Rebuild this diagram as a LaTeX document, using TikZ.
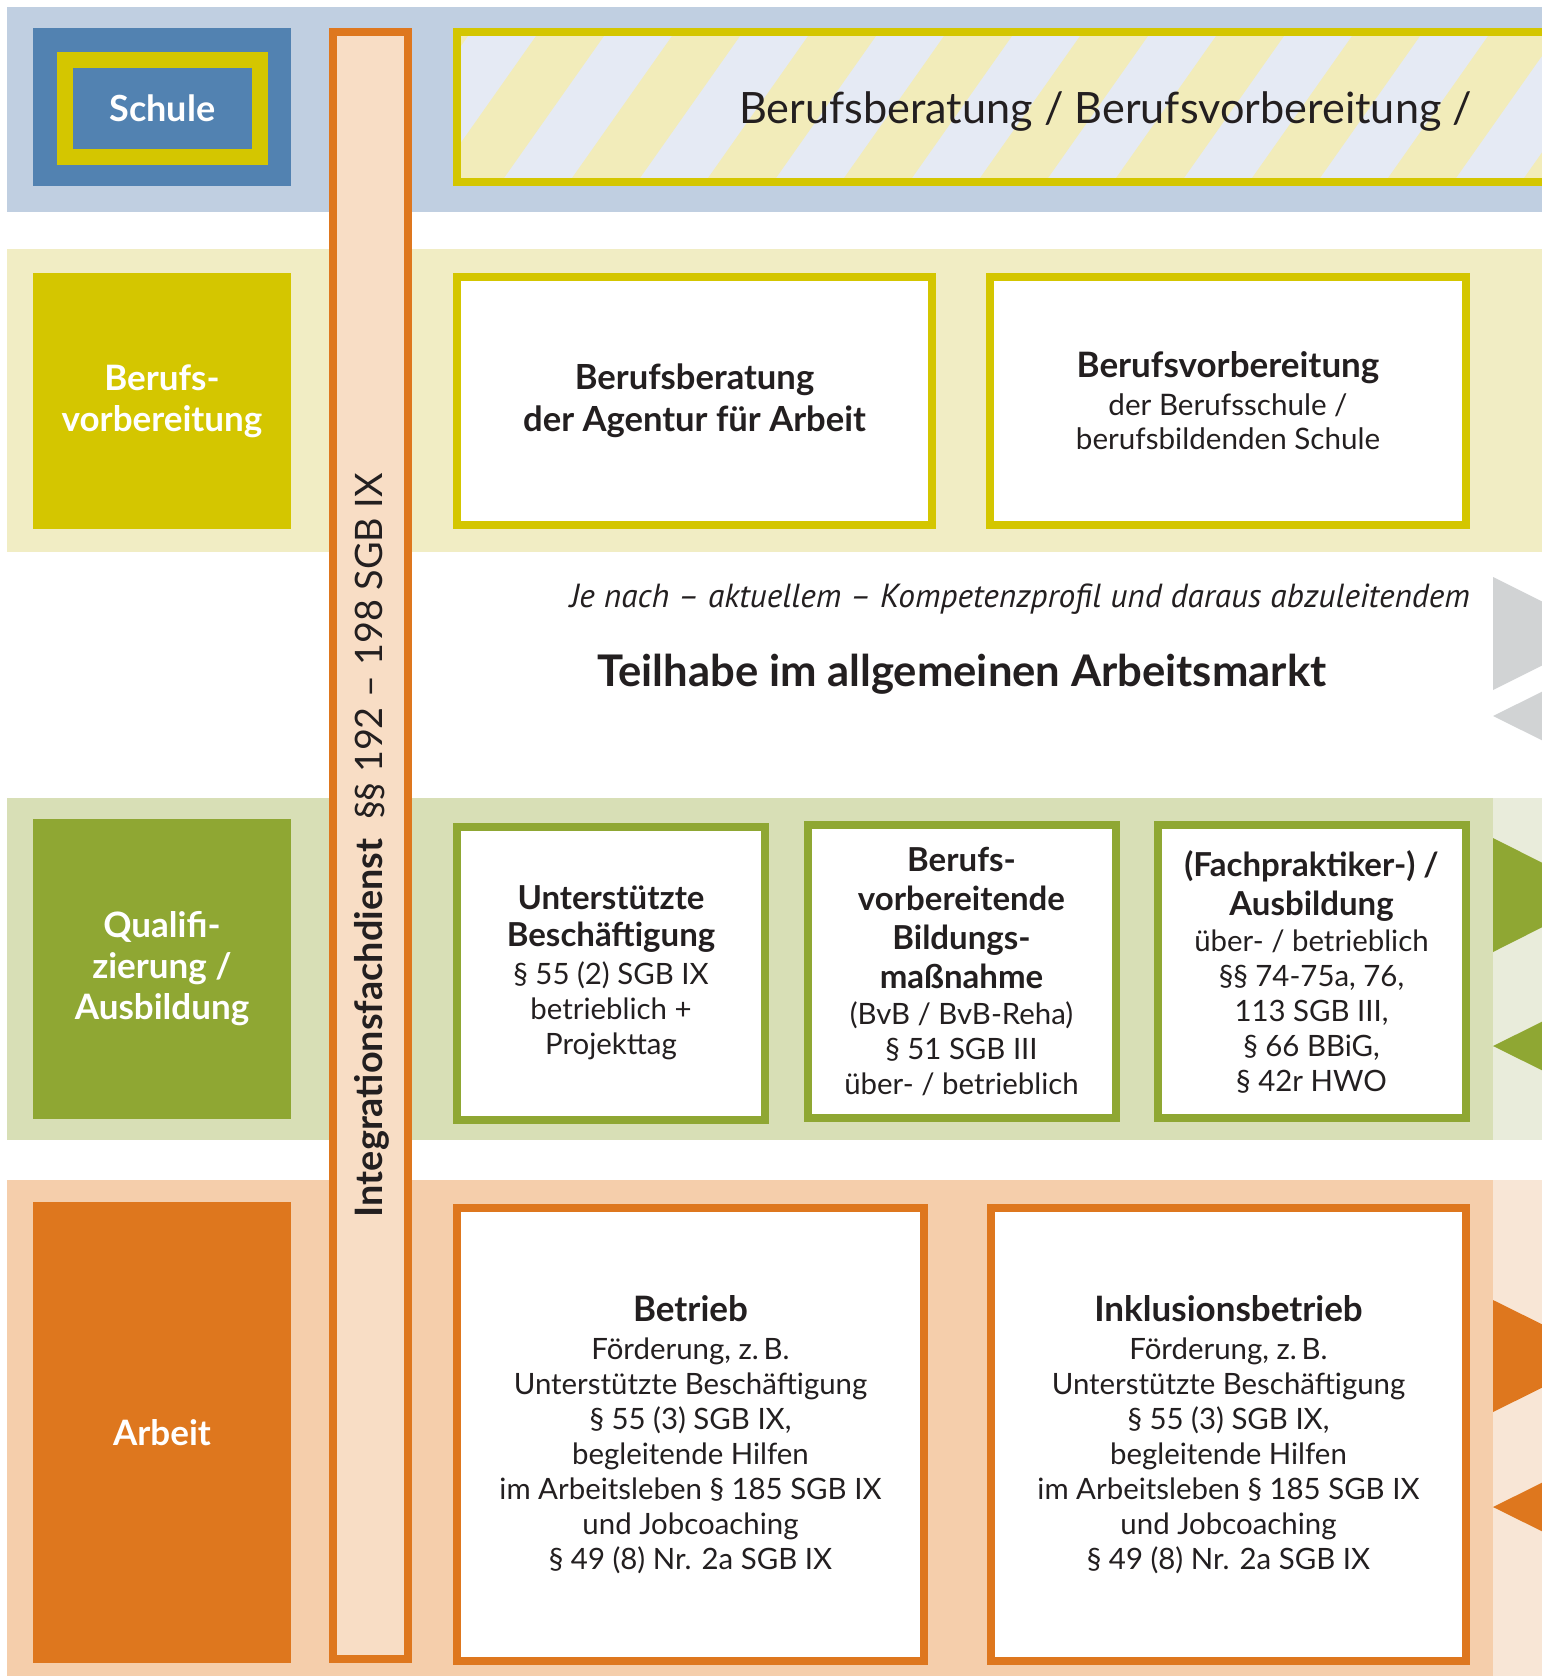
\documentclass[tikz,border=0pt]{standalone}
\usepackage{fontspec}
\setmainfont{Lato}
\newfontfamily\slantfont{PT Sans}
\usetikzlibrary{positioning}

\definecolor{txt}{HTML}{231F20}
\definecolor{schulblau}{HTML}{5282B1}
\definecolor{blaubg}{HTML}{C0CFE1}
\definecolor{stripblau}{HTML}{E5EAF4}
\definecolor{gelb}{HTML}{D4C600}
\definecolor{gelbbg}{HTML}{F1EDC4}
\definecolor{stripgelb}{HTML}{F2ECBA}
\definecolor{gruen}{HTML}{8FA733}
\definecolor{gruenbg}{HTML}{D8DFB6}
\definecolor{gruenhell}{HTML}{E9ECDB}
\definecolor{fdorange}{HTML}{DE771E}
\definecolor{orangebg}{HTML}{F5CEAB}
\definecolor{orangehell}{HTML}{F8E6D6}
\definecolor{ifdfill}{HTML}{F8DDC5}
\definecolor{grau}{HTML}{D1D3D4}

\newcommand{\boxtitle}{\bfseries\fontsize{17.5}{20}\selectfont}
\newcommand{\smalltitle}{\bfseries\fontsize{16.5}{19}\selectfont}

\begin{document}
\begin{tikzpicture}[x=0.5pt,y=-0.5pt,
	head/.style={fill=#1,text=white,font=\bfseries\fontsize{17.5}{20.5}\selectfont,align=center,minimum width=129pt,inner sep=0pt},
	card/.style={draw=#1,line width=4pt,fill=white,text=txt,align=center,inner sep=0pt,font=\fontsize{14.7}{17.5}\selectfont},
	tri/.style={fill=#1}]
	\useasboundingbox (0,0) rectangle (1542,1676);
	\clip (0,0) rectangle (1542,1676);

	% Baender
	\fill[blaubg] (7,7) rectangle (1542,212);
	\fill[gelbbg] (7,249) rectangle (1542,552);
	\fill[gruenbg] (7,798) rectangle (1493,1140);
	\fill[gruenhell] (1493,798) rectangle (1542,1140);
	\fill[orangebg] (7,1180) rectangle (1493,1676);
	\fill[orangehell] (1493,1180) rectangle (1542,1676);

	% Schule
	\node[head=schulblau,minimum height=79pt] (schule) at (162,107) {};
	\node[draw=gelb,line width=8pt,minimum width=97.5pt,minimum height=48.5pt,text=white,font=\bfseries\fontsize{18}{20}\selectfont] (schulrahmen) at (162.5,108.5) {Schule};

	\begin{scope}
		\clip (461,36) rectangle (1542,178);
		\fill[stripblau] (461,36) rectangle (1542,178);
		\foreach \s in {0,...,9}
			\fill[stripgelb] ({300+136*\s},178) -- ++(68,0) -- ++(100,-142) -- ++(-68,0) -- cycle;
	\end{scope}
	\draw[gelb,line width=4pt] (457,32) rectangle (1570,182);
	\node[anchor=base east,text=txt,font=\fontsize{21.6}{26}\selectfont] (leiste) at (1479,123) {Berufsberatung / Berufsvorbereitung /};

	% linke Spalte
	\node[head=gelb,minimum height=128pt] (bv) at (162,401) {Berufs-\\vorbereitung};
	\node[head=gruen,minimum height=150pt] (quali) at (162,969) {Qualifi-\\zierung /\\Ausbildung};
	\node[head=fdorange,minimum height=230.5pt] (arbeit) at (162,1432.5) {Arbeit};

	% Integrationsfachdienst
	\node[draw=fdorange,fill=ifdfill,line width=4pt,minimum width=37.5pt,minimum height=813.5pt,inner sep=0pt] (ifd) at (370.5,845.5) {};
	\node[rotate=90,text=txt,font=\fontsize{18.9}{21}\selectfont] (ifdtext) at (372,845) {\textbf{Integrationsfachdienst}\enspace §§ 192 – 198 SGB IX};

	% Berufsvorbereitung
	\node[card=gelb,minimum width=237.5pt,minimum height=124pt,font=\bfseries\fontsize{17.3}{21}\selectfont] (beratung) at (694.5,401) {Berufsberatung\\der Agentur für Arbeit};
	\node[card=gelb,minimum width=238pt,minimum height=124pt,font=\fontsize{14.8}{17}\selectfont] (bvschule) at (1228,401) {\boxtitle Berufsvorbereitung\\[2pt]der Berufsschule /\\berufsbildenden Schule};

	\node[anchor=base east,text=txt,font=\slantfont\itshape\fontsize{16.7}{19}\selectfont] (jenach) at (1477,607) {Je nach – aktuellem – Kompetenzprofil und daraus abzuleitendem};
	\node[anchor=base,text=txt,font=\bfseries\fontsize{21.8}{24}\selectfont] (teilhabe) at (962,686) {Teilhabe im allgemeinen Arbeitsmarkt};

	% Qualifizierung
	\node[card=gruen,minimum width=154pt,minimum height=146.5pt] (ub) at (611,973) {\smalltitle Unterstützte\\[1pt]\smalltitle Beschäftigung\\[1.5pt]§ 55 (2) SGB IX\\betrieblich +\\Projekttag};
	\node[card=gruen,minimum width=154pt,minimum height=146.5pt] (bvb) at (961.5,971.5) {\smalltitle Berufs-\\[2pt]\smalltitle vorbereitende\\[2pt]\smalltitle Bildungs-\\[2pt]\smalltitle maßnahme\\[0.5pt](BvB / BvB-Reha)\\§ 51 SGB III\\über- / betrieblich};
	\node[card=gruen,minimum width=154pt,minimum height=146.5pt] (fp) at (1311.5,971.5) {\smalltitle (Fachpraktiker-) /\\[2pt]\smalltitle Ausbildung\\[0.5pt]über- / betrieblich\\§§ 74-75a, 76,\\113 SGB III,\\§ 66 BBiG,\\§ 42r HWO};

	% Arbeit
	\node[card=fdorange,minimum width=233.5pt,minimum height=226.5pt] (betrieb) at (690.5,1434.5) {\boxtitle Betrieb\\[1.5pt]Förderung, z.\,B.\\Unterstützte Beschäftigung\\§ 55 (3) SGB IX,\\begleitende Hilfen\\im Arbeitsleben § 185 SGB IX\\und Jobcoaching\\§ 49 (8) Nr. 2a SGB IX};
	\node[card=fdorange,minimum width=237.5pt,minimum height=226.5pt] (inkl) at (1228.5,1434.5) {\boxtitle Inklusionsbetrieb\\[1.5pt]Förderung, z.\,B.\\Unterstützte Beschäftigung\\§ 55 (3) SGB IX,\\begleitende Hilfen\\im Arbeitsleben § 185 SGB IX\\und Jobcoaching\\§ 49 (8) Nr. 2a SGB IX};

	% Pfeile rechts
	\fill[tri=grau] (1493,577) -- (1606,633.5) -- (1493,690) -- cycle;
	\fill[tri=grau] (1493,716) -- (1606,660) -- (1606,772) -- cycle;
	\fill[tri=gruen] (1493,838) -- (1606,895) -- (1493,952) -- cycle;
	\fill[tri=gruen] (1493,1046) -- (1606,990) -- (1606,1102) -- cycle;
	\fill[tri=fdorange] (1493,1300) -- (1606,1356) -- (1493,1412) -- cycle;
	\fill[tri=fdorange] (1493,1507) -- (1606,1451) -- (1606,1563) -- cycle;
\end{tikzpicture}
\end{document}
